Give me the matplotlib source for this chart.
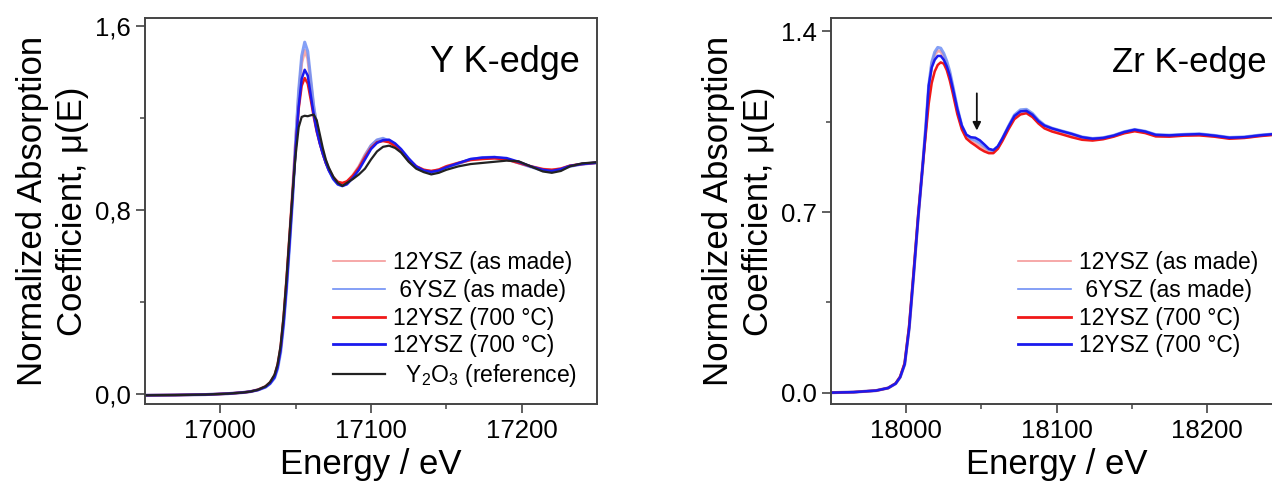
import numpy as np
import matplotlib
matplotlib.use("Agg")
import matplotlib.pyplot as plt

plt.rcParams['font.family'] = ['Liberation Sans', 'DejaVu Sans']
plt.rcParams['mathtext.fontset'] = 'custom'
plt.rcParams['mathtext.rm'] = 'Liberation Sans'
plt.rcParams['mathtext.it'] = 'Liberation Sans:italic'

# ---- Y K-edge spectra ----
e_y = [16950, 16970, 16990, 17005, 17015, 17020, 17025, 17030, 17033, 17036,
       17038, 17040, 17042, 17044, 17046, 17048, 17050, 17052, 17054, 17056,
       17058, 17060, 17062, 17064, 17066, 17068, 17070, 17072, 17075, 17078,
       17081, 17084, 17088, 17092, 17096, 17100, 17104, 17108, 17112, 17116,
       17120, 17125, 17130, 17135, 17140, 17145, 17150, 17158, 17166, 17174,
       17182, 17190, 17198, 17206, 17214, 17220, 17226, 17232, 17240, 17250]

y_12ysz_made = [-0.005, -0.004, -0.002, 0.002, 0.007, 0.011, 0.019, 0.033, 0.05, 0.08,
                0.125, 0.20, 0.33, 0.50, 0.69, 0.89, 1.10, 1.30, 1.44, 1.494,
                1.46, 1.35, 1.245, 1.165, 1.10, 1.05, 1.01, 0.978, 0.94, 0.918,
                0.913, 0.922, 0.952, 0.99, 1.04, 1.08, 1.103, 1.108, 1.098, 1.08,
                1.055, 1.018, 0.99, 0.975, 0.968, 0.975, 0.99, 1.005, 1.018, 1.024,
                1.026, 1.02, 1.005, 0.99, 0.978, 0.974, 0.98, 0.992, 1.0, 1.006]
y_6ysz_made = [-0.005, -0.004, -0.002, 0.002, 0.007, 0.011, 0.018, 0.03, 0.045, 0.07,
               0.11, 0.18, 0.30, 0.46, 0.65, 0.85, 1.10, 1.32, 1.47, 1.53,
               1.49, 1.37, 1.25, 1.165, 1.10, 1.05, 1.01, 0.975, 0.935, 0.912,
               0.905, 0.915, 0.945, 0.985, 1.035, 1.08, 1.105, 1.112, 1.10, 1.08,
               1.055, 1.015, 0.985, 0.97, 0.963, 0.97, 0.985, 1.002, 1.02, 1.028,
               1.03, 1.022, 1.005, 0.988, 0.972, 0.968, 0.976, 0.99, 1.0, 1.006]
y_12ysz_700r = [-0.005, -0.004, -0.002, 0.002, 0.007, 0.011, 0.019, 0.033, 0.05, 0.08,
                0.125, 0.20, 0.33, 0.50, 0.69, 0.88, 1.07, 1.24, 1.34, 1.374,
                1.35, 1.28, 1.205, 1.14, 1.09, 1.045, 1.005, 0.975, 0.942, 0.923,
                0.918, 0.925, 0.95, 0.985, 1.03, 1.07, 1.095, 1.10, 1.095, 1.078,
                1.055, 1.02, 0.99, 0.975, 0.97, 0.976, 0.99, 1.005, 1.018, 1.022,
                1.025, 1.02, 1.005, 0.99, 0.978, 0.975, 0.98, 0.993, 1.0, 1.006]
y_12ysz_700b = [-0.005, -0.004, -0.002, 0.002, 0.007, 0.011, 0.018, 0.031, 0.046, 0.073,
                0.115, 0.19, 0.31, 0.47, 0.66, 0.86, 1.07, 1.25, 1.37, 1.41,
                1.385, 1.30, 1.215, 1.145, 1.09, 1.045, 1.005, 0.972, 0.935, 0.912,
                0.905, 0.912, 0.94, 0.975, 1.02, 1.065, 1.092, 1.104, 1.106, 1.09,
                1.065, 1.025, 0.99, 0.972, 0.966, 0.972, 0.986, 1.004, 1.022, 1.028,
                1.03, 1.026, 1.01, 0.99, 0.975, 0.97, 0.978, 0.992, 1.0, 1.006]
y_y2o3 = [-0.005, -0.004, -0.002, 0.002, 0.007, 0.011, 0.019, 0.034, 0.052, 0.085,
          0.13, 0.21, 0.34, 0.51, 0.70, 0.88, 1.04, 1.16, 1.205, 1.21,
          1.208, 1.212, 1.215, 1.19, 1.13, 1.07, 1.02, 0.985, 0.945, 0.918,
          0.905, 0.918, 0.935, 0.955, 0.98, 1.02, 1.055, 1.075, 1.08, 1.07,
          1.05, 1.01, 0.98, 0.965, 0.955, 0.962, 0.975, 0.99, 1.0, 1.005,
          1.01, 1.015, 1.012, 0.99, 0.968, 0.962, 0.97, 0.99, 1.003, 1.008]

# ---- Zr K-edge spectra ----
e_zr = [17950, 17965, 17980, 17988, 17993, 17996, 17999, 18002, 18005, 18008,
        18011, 18013, 18015, 18017, 18019, 18021, 18023, 18025, 18027, 18029,
        18031, 18034, 18037, 18040, 18043, 18046, 18049, 18052, 18055, 18058,
        18061, 18064, 18068, 18072, 18076, 18080, 18084, 18088, 18092, 18097,
        18103, 18110, 18117, 18124, 18131, 18138, 18145, 18152, 18159, 18166,
        18175, 18185, 18195, 18205, 18215, 18225, 18235, 18250]

zr_12ysz_made = [0.0, 0.002, 0.008, 0.018, 0.035, 0.06, 0.11, 0.25, 0.46, 0.68,
                 0.88, 1.02, 1.17, 1.27, 1.31, 1.325, 1.322, 1.305, 1.275, 1.235,
                 1.18, 1.095, 1.03, 0.99, 0.975, 0.965, 0.955, 0.945, 0.937, 0.935,
                 0.95, 0.982, 1.028, 1.07, 1.09, 1.093, 1.078, 1.052, 1.033, 1.02,
                 1.01, 0.999, 0.987, 0.982, 0.986, 0.995, 1.008, 1.017, 1.01, 0.997,
                 0.995, 0.999, 1.0, 0.995, 0.987, 0.989, 0.996, 1.004]
zr_6ysz_made = [0.0, 0.002, 0.008, 0.018, 0.035, 0.06, 0.11, 0.25, 0.46, 0.68,
                0.88, 1.03, 1.19, 1.28, 1.32, 1.338, 1.335, 1.315, 1.285, 1.245,
                1.19, 1.105, 1.035, 0.998, 0.985, 0.978, 0.968, 0.955, 0.942, 0.938,
                0.953, 0.985, 1.032, 1.076, 1.096, 1.098, 1.082, 1.056, 1.037, 1.025,
                1.015, 1.004, 0.991, 0.985, 0.988, 0.997, 1.011, 1.02, 1.013, 1.0,
                0.998, 1.001, 1.003, 0.997, 0.989, 0.991, 0.998, 1.005]
zr_12ysz_700r = [0.0, 0.002, 0.008, 0.018, 0.036, 0.062, 0.115, 0.26, 0.47, 0.69,
                 0.88, 1.0, 1.12, 1.2, 1.245, 1.27, 1.28, 1.275, 1.25, 1.21,
                 1.16, 1.08, 1.02, 0.985, 0.97, 0.958, 0.945, 0.935, 0.928, 0.928,
                 0.945, 0.975, 1.02, 1.06, 1.078, 1.083, 1.068, 1.043, 1.024, 1.012,
                 1.002, 0.99, 0.98, 0.977, 0.982, 0.992, 1.005, 1.013, 1.006, 0.993,
                 0.992, 0.996, 0.997, 0.992, 0.984, 0.987, 0.994, 1.002]
zr_12ysz_700b = [0.0, 0.002, 0.008, 0.018, 0.035, 0.06, 0.11, 0.25, 0.46, 0.68,
                 0.88, 1.02, 1.19, 1.26, 1.29, 1.305, 1.305, 1.29, 1.265, 1.23,
                 1.18, 1.10, 1.035, 1.0, 0.99, 0.988, 0.978, 0.962, 0.945, 0.94,
                 0.955, 0.985, 1.03, 1.072, 1.09, 1.092, 1.077, 1.052, 1.035, 1.024,
                 1.014, 1.003, 0.99, 0.984, 0.987, 0.996, 1.01, 1.019, 1.012, 0.999,
                 0.997, 1.0, 1.002, 0.996, 0.988, 0.99, 0.997, 1.005]

labels = ['12YSZ (as made)', ' 6YSZ (as made)', '12YSZ (700 °C)', '12YSZ (700 °C)',
          '  Y$_2$O$_3$ (reference)']
colors = ['#f59a9a', '#6f8ff5', '#f01818', '#1a1aee', '#222222']
widths = [2.2, 2.2, 1.8, 1.8, 1.6]
alphas = [0.85, 0.85, 1.0, 1.0, 1.0]

spine_col = '#444444'

fig = plt.figure(figsize=(12.72, 4.82), dpi=100)
ax1 = fig.add_axes([145 / 1272, 78 / 482, 452 / 1272, 386 / 482])
ax2 = fig.add_axes([831 / 1272, 78 / 482, 451 / 1272, 386 / 482])


def style_axis(ax):
    for sp in ax.spines.values():
        sp.set_color(spine_col)
        sp.set_linewidth(1.4)
    ax.tick_params(which='major', direction='out', length=6.5, width=1.2,
                   color=spine_col, labelsize=18.5, pad=4, top=False, right=False)
    ax.tick_params(which='minor', direction='out', length=3.5, width=1.1,
                   color=spine_col, top=False, right=False)
    ax.set_xlabel('Energy / eV', fontsize=25, labelpad=4)
    ax.set_ylabel('Normalized Absorption\nCoefficient, μ(E)', fontsize=25,
                  labelpad=4, linespacing=1.25)


def add_legend(ax):
    leg = ax.legend(loc='upper left', bbox_to_anchor=(0.39, 0.425), frameon=False,
                    fontsize=16.5, handlelength=2.3, handletextpad=0.35,
                    labelspacing=0.2, borderpad=0)
    for h, w in zip(leg.get_lines(), [1.2, 1.2, 2.0, 2.0, 1.6]):
        h.set_linewidth(w)
        h.set_alpha(1.0)
    return leg


# Y K-edge
y_series = [y_12ysz_made, y_6ysz_made, y_12ysz_700r, y_12ysz_700b, y_y2o3]
for vals, c, w, a, lab in zip(y_series, colors, widths, alphas, labels):
    ax1.plot(e_y, vals, color=c, lw=w, alpha=a, label=lab)
ax1.set_xlim(16950, 17250)
ax1.set_ylim(-0.043, 1.635)
ax1.set_xticks([17000, 17100, 17200])
ax1.set_xticks([17050, 17150], minor=True)
ax1.set_yticks([0.0, 0.8, 1.6])
ax1.set_yticklabels(['0,0', '0,8', '1,6'])
ax1.set_yticks([0.4, 1.2], minor=True)
style_axis(ax1)
ax1.text(0.962, 0.886, 'Y K-edge', transform=ax1.transAxes, fontsize=26,
         ha='right', va='center')
add_legend(ax1)

# Zr K-edge
zr_series = [zr_12ysz_made, zr_6ysz_made, zr_12ysz_700r, zr_12ysz_700b]
for vals, c, w, a, lab in zip(zr_series, colors, widths, alphas, labels):
    ax2.plot(e_zr, vals, color=c, lw=w, alpha=a, label=lab)
ax2.set_xlim(17950, 18250)
ax2.set_ylim(-0.044, 1.452)
ax2.set_xticks([18000, 18100, 18200])
ax2.set_xticks([18050, 18150], minor=True)
ax2.set_yticks([0.0, 0.7, 1.4])
ax2.set_yticklabels(['0.0', '0.7', '1.4'])
ax2.set_yticks([0.35, 1.05], minor=True)
style_axis(ax2)
ax2.text(0.967, 0.886, 'Zr K-edge', transform=ax2.transAxes, fontsize=25,
         ha='right', va='center')
ax2.annotate('', xy=(18047, 1.016), xytext=(18047, 1.16),
             arrowprops=dict(arrowstyle='-|>', color='#111111', lw=1.3,
                             mutation_scale=12, shrinkA=0, shrinkB=0))
add_legend(ax2)

fig.savefig('out.png', dpi=100)
